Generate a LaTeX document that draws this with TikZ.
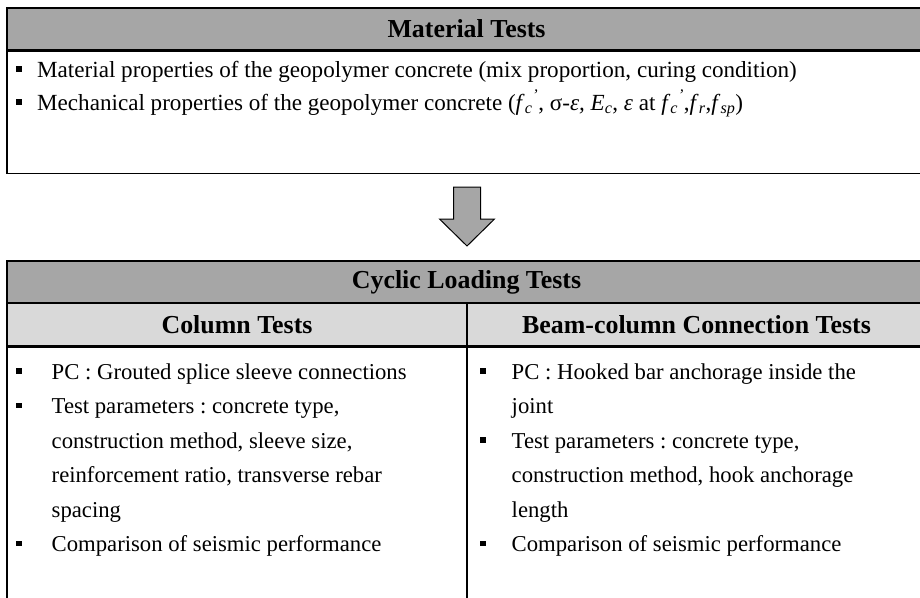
\documentclass[tikz,border=0pt]{standalone}
\usepackage{fontspec}
\setmainfont{Liberation Serif}
\definecolor{hdark}{HTML}{A6A6A6}
\definecolor{hlight}{HTML}{D9D9D9}
\newcommand{\bsq}{\rule[5.5pt]{5.5pt}{5.5pt}}
\newcommand{\fcp}{\textit{f}\textsubscript{\textit{c}}\textsuperscript{\textit{'}}}
\frenchspacing
\begin{document}
\begin{tikzpicture}[x=1pt,y=-1pt,
  frame/.style={draw=black, line width=1.5pt, inner sep=0pt},
  bodyfont/.style={font=\fontsize{22.7}{34.5}\selectfont, inner sep=0pt, anchor=base west},
  topfont/.style={font=\fontsize{23.1}{33}\selectfont, inner sep=0pt, anchor=base west},
  headfont/.style={font=\fontsize{25.9}{30}\selectfont\bfseries},
  blockarrow/.style={draw=black, line width=1pt, fill=hdark, line join=miter}]
\useasboundingbox (0,0) rectangle (920,597);
\clip (0,0) rectangle (920,597);
\fill[white] (0,0) rectangle (920,597);

% Material tests box
\node[frame, fill=hdark, minimum width=919pt, minimum height=42pt, headfont] (mathead) at (466.5,29) {Material Tests};
\node[frame, fill=white, minimum width=919pt, minimum height=122pt, anchor=north] (matbody) at (mathead.south) {};
\node[topfont] (matlist) at (16,77) {\begin{tabular}[t]{@{}p{21pt}@{}l@{}}
\bsq & Material properties of the geopolymer concrete (mix proportion, curing condition)\\
\bsq & Mechanical properties of the geopolymer concrete (\fcp, σ-\textit{ε, E}\textsubscript{\textit{c}}, \textit{ε} at \fcp,\textit{f}\textsubscript{\textit{r}},\textit{f}\textsubscript{\textit{sp}})
\end{tabular}};

% Cyclic loading tests box
\node[frame, fill=hdark, minimum width=919pt, minimum height=42pt, headfont] (cychead) at (466.5,282) {Cyclic Loading Tests};
\node[frame, fill=hlight, minimum width=460pt, minimum height=43pt, headfont] (colhead) at (237,324.5) {Column Tests};
\node[frame, fill=hlight, minimum width=459pt, minimum height=43pt, headfont] (bchead) at (696.5,324.5) {Beam-column Connection Tests};
\node[frame, minimum width=460pt, minimum height=264pt, anchor=north] (colbody) at (colhead.south) {};
\node[frame, minimum width=459pt, minimum height=264pt, anchor=north] (bcbody) at (bchead.south) {};

% block arrow between the boxes
\coordinate (atop) at (467,187);
\coordinate (atip) at (467,246);
\draw[blockarrow] ([xshift=-13.5pt]atop) -- ([xshift=13.5pt]atop) -- ++(0,32) -- ++(14,0)
  -- (atip) -- ++(-27.5,-27) -- ++(14,0) -- cycle;

\node[bodyfont] (collist) at (16,379) {\begin{tabular}[t]{@{}p{35.5pt}@{}l@{}}
\bsq & PC : Grouted splice sleeve connections\\
\bsq & Test parameters : concrete type,\\
 & construction method, sleeve size,\\
 & reinforcement ratio, transverse rebar\\
 & spacing\\
\bsq & Comparison of seismic performance
\end{tabular}};

\node[bodyfont] (bclist) at (480,379) {\begin{tabular}[t]{@{}p{31.5pt}@{}l@{}}
\bsq & PC : Hooked bar anchorage inside the\\
 & joint\\
\bsq & Test parameters : concrete type,\\
 & construction method, hook anchorage\\
 & length\\
\bsq & Comparison of seismic performance
\end{tabular}};
\end{tikzpicture}
\end{document}
